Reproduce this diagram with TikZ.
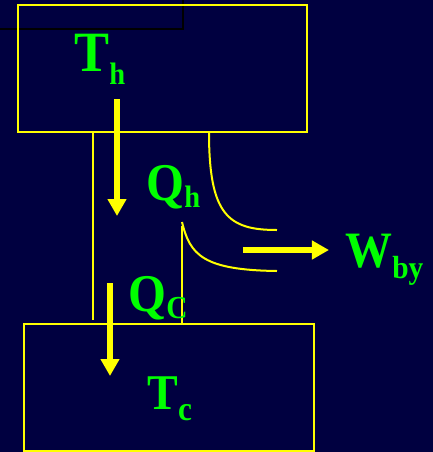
\documentclass[tikz,border=0pt]{standalone}
\usepackage{fontspec}
\setmainfont[FakeStretch=0.92]{Liberation Serif}
\usetikzlibrary{arrows.meta}
\definecolor{navy}{RGB}{0,0,64}
\definecolor{lime}{RGB}{0,255,0}
\definecolor{gold}{RGB}{255,255,0}
\newcommand\lowsub[3]{\raisebox{-#1pt}{\fontsize{#2}{#2}\selectfont #3}}

\begin{document}
\begin{tikzpicture}[x=0.5pt,y=-0.5pt,
  wall/.style={draw=gold, line width=1.2pt},
  flow/.style={gold, line width=1pt},
  heatarrow/.style={gold, line width=2.8pt, -{Triangle[length=8.5pt,width=9pt]}},
  lbl/.style={text=lime, inner sep=0pt, anchor=base west, font=\bfseries\fontsize{#1}{#1}\selectfont}]

\fill[navy] (0,0) rectangle (433,452);
\useasboundingbox (0,0) rectangle (433,452);

% black corner line
\draw[black, line width=1.2pt] (0,29) -- (183,29) -- (183,0);

% reservoirs
\draw[wall] (18,5) rectangle (307,132);
\draw[wall] (24,324) rectangle (314,451);

% engine walls
\draw[flow] (93,132) -- (93,320);
\draw[flow] (182,226) -- (182,324);
\draw[flow] (209,132) .. controls (209,215) and (228,230) .. (277,230);
\draw[flow] (182,222) .. controls (190,255) and (203,270) .. (277,271);

% arrow ends
\coordinate (hotout) at (117,99);
\coordinate (hotin) at (117,216);
\coordinate (coldout) at (110,283);
\coordinate (coldin) at (110,376);
\coordinate (wstart) at (243,250);
\coordinate (wend) at (329,250);

\draw[heatarrow] (hotout) -- (hotin);
\draw[heatarrow] (coldout) -- (coldin);
\draw[heatarrow] (wstart) -- (wend);

% labels
\node[lbl=28.5] (Th) at (74,71) {T\lowsub{6.5}{15.5}{h}};
\node[lbl=26.5] (Qh) at (146,200) {Q\lowsub{3.5}{15.5}{h}};
\node[lbl=26.5] (Qc) at (128,311) {Q\lowsub{3.5}{16}{C}};
\node[lbl=25] (Tc) at (147,409) {T\lowsub{5.5}{17}{c}};
\node[lbl=25.5] (Wby) at (345,267) {W\lowsub{5.5}{16}{by}};

\end{tikzpicture}
\end{document}
